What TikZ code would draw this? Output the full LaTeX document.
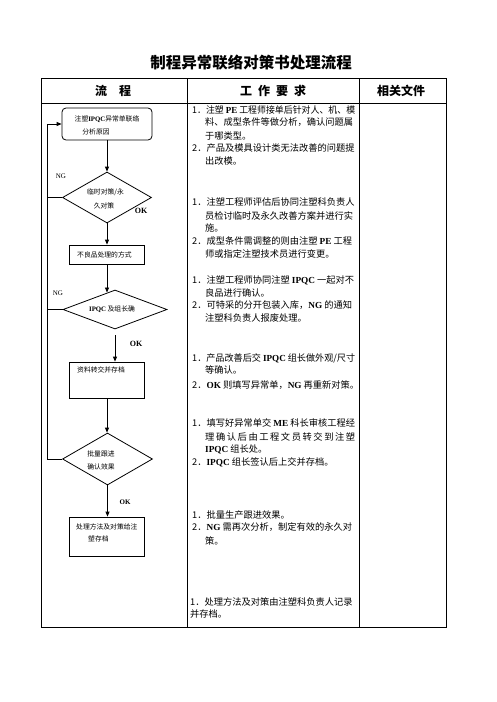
\documentclass[tikz,border=0pt]{standalone}
\usepackage{fontspec}
\setmainfont{Liberation Serif}
\newfontfamily\cjk{Noto Sans CJK SC}
\usetikzlibrary{arrows.meta,shapes.geometric}
\newcommand\en[1]{{\rmfamily\bfseries #1}}
\newcommand\fitline[2]{\resizebox{#1}{\height}{#2}}
\tikzset{
  frame/.style={line width=1pt},
  flowbox/.style={draw, line width=0.8pt, inner sep=0pt},
  flowdia/.style={draw, diamond, line width=0.8pt, inner sep=0pt},
  flowarrow/.style={line width=0.8pt, -{Triangle[length=5pt,width=4pt]}},
  flowline/.style={line width=0.8pt},
  txt/.style={anchor=west, inner sep=0pt, font=\cjk\fontsize{9.25}{11}\selectfont},
  small/.style={inner sep=0pt, font=\cjk\fontsize{6.8}{8}\selectfont},
  smallw/.style={small, anchor=west},
  head/.style={inner sep=0pt, font=\cjk\bfseries\fontsize{12}{14}\selectfont},
  lab/.style={inner sep=0pt, font=\rmfamily\bfseries\fontsize{8}{9}\selectfont},
}
\begin{document}
\begin{tikzpicture}[x=1pt,y=-1pt]
\useasboundingbox (0,0) rectangle (496,702);
% title
\node[inner sep=0pt, font=\cjk\bfseries\fontsize{15.5}{17}\selectfont] (title) at (251,63) {制程异常联络对策书处理流程};
% table
\draw[frame] (41,78) rectangle (446,627);
\draw[frame] (41,103) -- (446,103);
\draw[frame] (187,78) -- (187,627);
\draw[frame] (359,78) -- (359,627);
\node[head] (h1) at (113,91) {流\hspace{1em}程};
\node[head] (h2) at (273,91) {工\hspace{0.5em}作\hspace{0.5em}要\hspace{0.5em}求};
\node[head] (h3) at (401,91) {相关文件};
% flow shapes
\node[flowbox, rounded corners=4pt, minimum width=90pt, minimum height=32pt] (b1) at (107,124) {};
\node[flowdia, minimum width=89pt, minimum height=51pt, aspect=1.745] (d1) at (107,197.5) {};
\node[flowbox, minimum width=75pt, minimum height=19pt] (b2) at (107,254.5) {};
\node[flowdia, minimum width=104pt, minimum height=39pt, aspect=2.67] (d2) at (115,309.5) {};
\node[flowbox, minimum width=75pt, minimum height=36pt] (b3) at (107,380) {};
\node[flowdia, minimum width=90pt, minimum height=52pt, aspect=1.73] (d3) at (107.5,459) {};
\node[flowbox, minimum width=75pt, minimum height=39pt] (b4) at (107,536.5) {};
% flow texts
\node[small] (t1a) at (107,119) {注塑\en{IPQC}异常单联络};
\node[small] (t1b) at (96,132) {分析原因};
\node[small] (t2a) at (105.5,192) {临时对策/永};
\node[small] (t2b) at (104,206) {久对策};
\node[smallw] (t3) at (77,254.5) {不良品处理的方式};
\node[small] (t4) at (112,309) {\en{IPQC} 及组长确};
\node[smallw] (t5) at (77,370) {资料转交并存档};
\node[small] (t6a) at (101,454) {批量跟进};
\node[small] (t6b) at (101,467) {确认效果};
\node[smallw] (t7a) at (76,527) {处理方法及对策给注};
\node[smallw] (t7b) at (88,539) {塑存档};
% labels
\node[lab] (ok1) at (141,211) {OK};
\node[lab] (ok2) at (136,344) {OK};
\node[lab, font=\rmfamily\bfseries\fontsize{7}{8}\selectfont] (ok3) at (125,502) {OK};
\node[lab, font=\rmfamily\fontsize{7}{8}\selectfont] (ng1) at (61,176) {NG};
\node[lab, font=\rmfamily\fontsize{7}{8}\selectfont] (ng2) at (58,293) {NG};
% connectors
\coordinate (fbtop) at (47,124);
\coordinate (d2hit) at (107,292.5);
\coordinate (d2out) at (115,335);
\draw[flowarrow] (b1.south) -- (b1.south |- d1.north);
\draw[flowarrow] (d1.south) -- (b2.north);
\draw[flowarrow] (b2.south) -- (d2hit);
\draw[flowarrow] (d2out) -- (d2out |- b3.north);
\draw[flowarrow] (b3.south) -- (b3.south |- d3.north);
\draw[flowarrow] (d3.south) -- (d3.south |- b4.north);
\draw[flowarrow] (d3.west) -- (d3.west -| fbtop) -- (fbtop) -- (b1.west);
\draw[flowline] (d1.west) -- (d1.west -| fbtop);
\draw[flowline] (d2.west) -- (d2.west -| fbtop);
% work requirement texts
\node[txt] (m1) at (192,110) {\fitline{163pt}{1．注塑 \en{PE} 工程师接单后针对人、机、模}};
\node[txt] (m2) at (205,122) {料、成型条件等做分析，确认问题属};
\node[txt] (m3) at (205,136) {于哪类型。};
\node[txt] (m4) at (192,148) {2．产品及模具设计类无法改善的问题提};
\node[txt] (m5) at (205,161) {出改模。};
\node[txt] (m6) at (192,202) {1．注塑工程师评估后协同注塑科负责人};
\node[txt] (m7) at (205,216) {员检讨临时及永久改善方案并进行实};
\node[txt] (m8) at (205,228) {施。};
\node[txt] (m9) at (192,241) {2．成型条件需调整的则由注塑 \en{PE} 工程};
\node[txt] (m10) at (205,254) {师或指定注塑技术员进行变更。};
\node[txt] (m11) at (192,280) {1．注塑工程师协同注塑 \en{IPQC} 一起对不};
\node[txt] (m12) at (205,293) {良品进行确认。};
\node[txt] (m13) at (192,305) {2．可特采的分开包装入库，\en{NG} 的通知};
\node[txt] (m14) at (205,318) {注塑科负责人报废处理。};
\node[txt] (m15) at (192,358) {\fitline{163pt}{1．产品改善后交 \en{IPQC} 组长做外观/尺寸}};
\node[txt] (m16) at (205,370) {等确认。};
\node[txt] (m17) at (192,385) {2．\en{OK} 则填写异常单，\en{NG} 再重新对策。};
\node[txt] (m18) at (192,423) {1．填写好异常单交 \en{ME} 科长审核工程经};
\node[txt] (m19) at (205,437) {\makebox[150pt][s]{理\hfill 确\hfill 认\hfill 后\hfill 由\hfill 工\hfill 程\hfill 文\hfill 员\hfill 转\hfill 交\hfill 到\hfill 注\hfill 塑}};
\node[txt] (m20) at (205,449) {\en{IPQC} 组长处。};
\node[txt] (m21) at (192,462) {2．\en{IPQC} 组长签认后上交并存档。};
\node[txt] (m22) at (192,515) {1．批量生产跟进效果。};
\node[txt] (m23) at (192,527) {2．\en{NG} 需再次分析，制定有效的永久对};
\node[txt] (m24) at (205,541) {策。};
\node[txt] (m25) at (190,602) {1．处理方法及对策由注塑科负责人记录};
\node[txt] (m26) at (190,614) {并存档。};
\end{tikzpicture}
\end{document}
